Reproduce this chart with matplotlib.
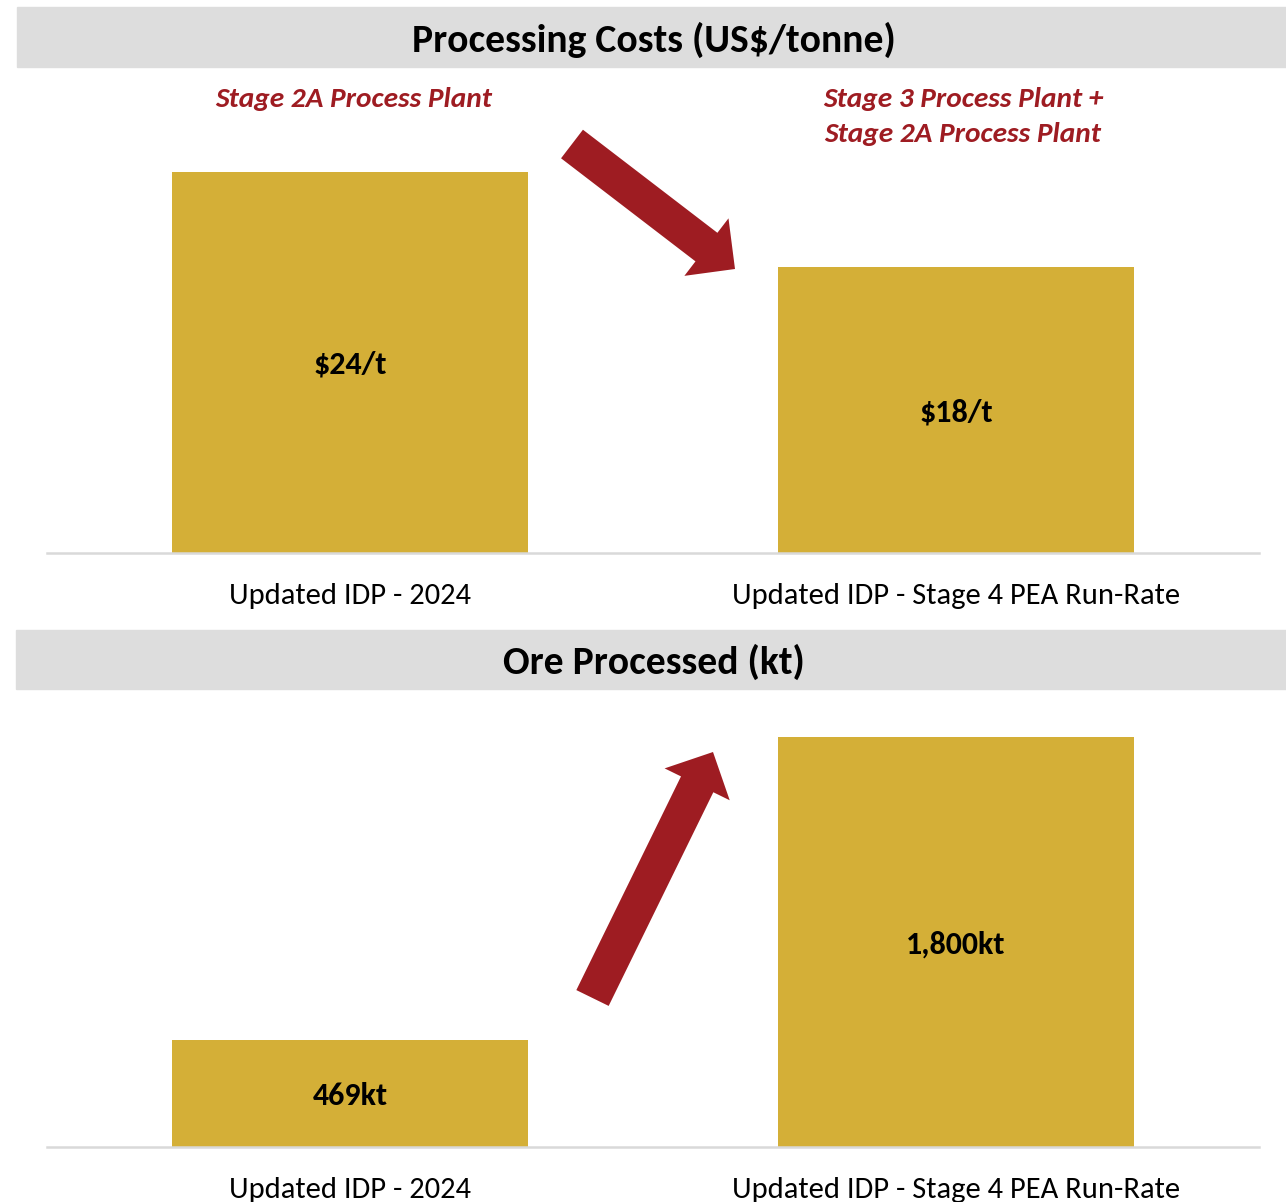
import matplotlib
matplotlib.use('Agg')
import matplotlib.pyplot as plt
import matplotlib.patches as mpatches
from matplotlib import font_manager

# data
categories = ['Updated IDP - 2024', 'Updated IDP - Stage 4 PEA Run-Rate']
cost_values = [24, 18]
cost_labels = ['$24/t', '$18/t']
ore_values = [469, 1800]
ore_labels = ['469kt', '1,800kt']
cost_notes = ['Stage 2A Process Plant', 'Stage 3 Process Plant +\nStage 2A Process Plant']

GOLD = '#D4AF37'
RED = '#9E1C22'
BAND = '#DDDDDD'
BASE = '#D9D9D9'


def pick_font(names):
    for n in names:
        try:
            font_manager.findfont(n, fallback_to_default=False)
            return n
        except ValueError:
            pass
    return 'DejaVu Sans'


plt.rcParams['font.family'] = pick_font(['Carlito', 'Calibri', 'Lato', 'Open Sans'])

W, H = 1286, 1202
fig = plt.figure(figsize=(W / 100, H / 100), dpi=100)


def fx(x):
    return x / W


def fy(y):
    return 1 - y / H


def bar_panel(top_px, bottom_px, values, labels, ymax):
    ax = fig.add_axes([fx(47), fy(bottom_px), fx(1259) - fx(47), fy(top_px) - fy(bottom_px)])
    x = range(len(values))
    ax.bar(x, values, width=0.587, color=GOLD, zorder=2)
    for i, (v, lab) in enumerate(zip(values, labels)):
        ax.text(i, v / 2, lab, ha='center', va='center_baseline', fontsize=23,
                fontweight='bold', color='black')
    ax.set_xlim(-0.5, 1.5)
    ax.set_ylim(0, ymax)
    ax.set_xticks(list(x))
    ax.set_xticklabels(categories, fontsize=22)
    ax.tick_params(axis='x', length=0, pad=21.5)
    ax.set_yticks([])
    for s in ['top', 'left', 'right']:
        ax.spines[s].set_visible(False)
    ax.spines['bottom'].set_color(BASE)
    ax.spines['bottom'].set_linewidth(1.8)
    ax.set_facecolor('none')
    return ax


def title_band(y0, y1, x0, text):
    fig.add_artist(mpatches.Rectangle((fx(x0), fy(y1)), 1 - fx(x0), fy(y0) - fy(y1),
                                      transform=fig.transFigure, color=BAND, zorder=0))
    fig.text(fx(654), fy((y0 + y1) / 2 + 2.5), text, ha='center', va='center',
             fontsize=28.5, fontweight='bold', color='black')


title_band(7, 67, 17, 'Processing Costs (US$/tonne)')
title_band(630, 689, 16, 'Ore Processed (kt)')

ax1 = bar_panel(67, 553, cost_values, cost_labels, 30.6)
ax2 = bar_panel(689, 1147, ore_values, ore_labels, 2010)

fig.text(fx(354), fy(99), cost_notes[0], ha='center', va='center', fontsize=21.2,
         fontweight='bold', fontstyle='italic', color=RED)
fig.text(fx(963), fy(116.5), cost_notes[1], ha='center', va='center', fontsize=21.2,
         fontweight='bold', fontstyle='italic', color=RED, linespacing=1.53)

# overlay in image pixel units for the arrows
ov = fig.add_axes([0, 0, 1, 1])
ov.set_xlim(0, W)
ov.set_ylim(H, 0)
ov.axis('off')
ov.patch.set_alpha(0)


def arrow(tail, tip, width=36, head_width=72.5, head_length=36):
    ov.add_patch(mpatches.FancyArrow(tail[0], tail[1], tip[0] - tail[0], tip[1] - tail[1],
                                     width=width, head_width=head_width, head_length=head_length,
                                     length_includes_head=True, color=RED, lw=0))


arrow((572, 144), (735, 269))
arrow((592.5, 998), (713, 752))

fig.savefig('out.png', dpi=100)
